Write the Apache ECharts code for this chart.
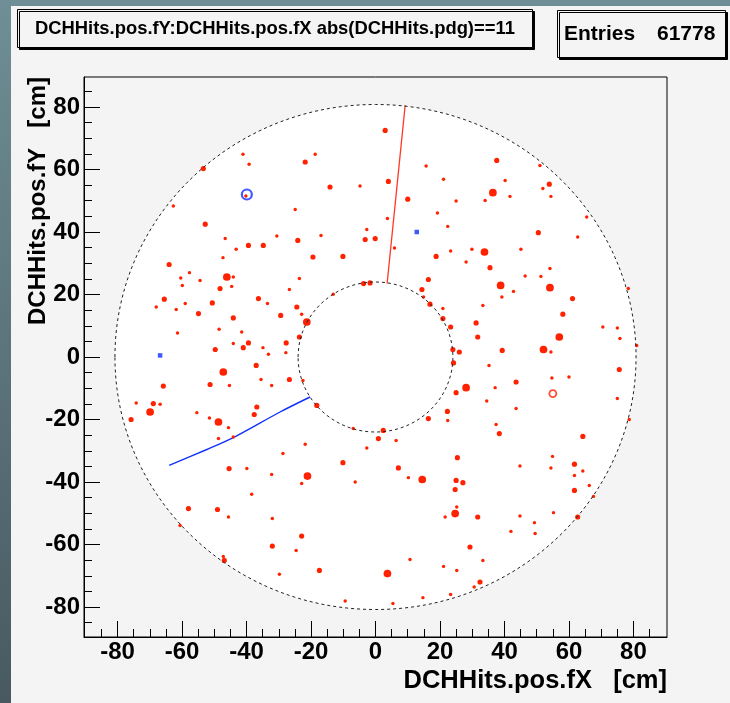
<!DOCTYPE html>
<html>
<head>
<meta charset="utf-8">
<script src="https://cdn.jsdelivr.net/npm/echarts@6/dist/echarts.min.js"></script>
<style>
  html, body { margin: 0; padding: 0; }
  body { width: 730px; height: 703px; background: linear-gradient(to bottom, #6f8e95, #485a60); position: relative; overflow: hidden; }
  #main { position: absolute; left: 11px; top: 6px; width: 719px; height: 697px; }
</style>
</head>
<body>
<div id="main"></div>
<script>
// tick values
var majorTicks = [-80, -60, -40, -20, 0, 20, 40, 60, 80];
var minorTicks = [-85, -80, -75, -70, -65, -60, -55, -50, -45, -40, -35, -30, -25, -20, -15, -10, -5, 0,
                  5, 10, 15, 20, 25, 30, 35, 40, 45, 50, 55, 60, 65, 70, 75, 80, 85];

// chamber walls: [x, y, radius]  (cm)
var walls = [[0, 0, 80.8], [0, 0, 24]];

// electron hits (red): [x, y, hits]
var hitsRed = [
  [-41.1,64.9,1],[-18.7,64.9,1],[-21.8,62.4,3],[-39.2,61.7,1],[-53.4,60.3,3],[4.0,56.2,3],[-4.8,54.7,1],
  [-14.1,54.4,3],[-40.2,51.5,1],[10.0,50.5,3],[15.7,61.1,1],[21.1,56.9,1],[-62.7,48.3,1],[-24.9,47.2,1],
  [19.2,46.1,1],[3.7,44.3,1],[-52.8,42.5,3],[22.4,41.8,1],[-2.7,40.8,1],[-30.6,38.7,1],[-16.9,38.9,1],
  [-46.6,37.9,1],[-24.1,37.3,3],[-3.2,37.6,3],[-0.1,37.9,3],[-39.4,35.7,3],[-34.8,35.7,3],[-43.2,34.5,1],
  [5.9,34.9,1],[18.8,32.2,3],[-19.4,32.0,3],[-10.1,32.2,3],[-47.3,31.8,1],[-64.0,29.6,3],[-57.7,27.0,1],
  [-46.1,25.6,6],[-44.1,25.6,1],[16.4,24.8,3],[-60.4,25.3,1],[-54.4,24.5,1],[-23.6,25.1,1],[-59.9,22.9,1],
  [-48.2,21.9,3],[-44.6,22.6,1],[-26.7,21.6,1],[14.4,21.6,3],[-65.5,18.5,3],[-36.3,18.7,3],[-24.4,16.0,3],
  [-68.0,16.0,1],[-50.6,17.3,3],[-59.0,17.1,1],[-33.5,17.1,1],[-61.8,15.2,1],[-54.9,13.9,3],[-29.4,13.3,3],
  [-22.9,13.7,1],[-44.1,12.5,3],[-21.3,11.2,6],[20.9,15.5,1],[20.9,12.3,3],[-48.5,8.9,1],[-61.4,7.7,1],
  [-41.5,8.0,1],[-23.6,6.4,3],[-27.7,4.5,3],[-39.4,4.5,3],[-44.1,4.3,1],[-49.7,2.4,3],[-41.0,3.0,3],
  [-34.9,3.0,1],[-33.2,0.9,1],[-27.8,1.4,1],[-37.0,-2.7,3],[-47.2,-4.8,6],[-26.7,-7.2,3],[-35.5,-7.2,1],
  [-51.3,-8.8,3],[-65.8,-9.3,3],[-22.5,-7.5,1],[-45.3,-9.1,1],[-32.2,-9.1,1],[-37.6,-18.4,3],
  [-55.4,-17.8,1],[-51.5,-19.5,1],[-48.7,-20.8,6],[-45.6,-22.6,1],[16.4,-19.7,3],[0.9,-26.1,3],
  [-2.7,-29.1,1],[-21.8,-27.9,1],[6.4,-26.7,1],[-36.8,-16.0,3],[-44.1,-25.6,1],[3.0,72.5,3],
  [-3.7,23.5,3],[-1.7,23.7,3],[-13.1,20.1,1],[-18.2,-15.5,3],[-6.9,-22.9,1],[2.4,-23.5,3],[14.9,19.2,1],
  [37.6,62.9,3],[51.0,61.3,1],[40.2,56.5,1],[53.9,55.3,3],[51.9,53.9,1],[36.4,52.6,6],[54.4,51.4,1],
  [41.7,51.4,1],[25.0,49.9,1],[34.0,50.1,1],[65.5,44.8,1],[50.5,39.8,3],[62.7,38.4,1],[29.9,34.5,1],
  [45.1,34.5,1],[23.3,33.9,1],[33.8,33.6,6],[28.1,30.4,1],[35.5,28.6,3],[54.1,28.3,1],[46.4,25.9,1],
  [51.3,25.8,1],[38.8,22.9,6],[54.1,22.2,6],[61.1,18.7,3],[42.8,21.0,1],[39.2,19.2,1],[16.9,16.9,3],
  [33.3,16.5,1],[58.1,13.7,3],[78.4,21.9,1],[31.2,10.9,3],[23.3,9.6,3],[70.5,9.6,1],[75.0,9.3,1],
  [57.0,6.4,6],[31.7,6.4,3],[75.8,5.9,1],[81.0,3.7,1],[24.0,2.4,3],[26.0,1.6,3],[39.3,2.1,3],[52.1,2.4,6],
  [54.4,1.6,1],[24.2,-1.9,3],[35.2,-2.7,1],[75.6,-4.0,3],[54.7,-6.7,1],[60.0,-6.4,1],[43.6,-8.0,3],
  [28.1,-9.8,6],[25.0,-11.4,3],[37.1,-9.8,1],[34.5,-14.1,1],[75.0,-13.3,1],[22.3,-17.4,3],[22.4,-20.3,1],
  [43.6,-16.5,1],[78.7,-20.0,1],[37.4,-21.6,1],[38.4,-24.5,3],[64.3,-25.4,3],
  [25.4,-32.2,3],[54.9,-31.8,1],[44.8,-34.9,1],[54.4,-35.5,1],[7.1,-35.5,3],[61.7,-34.3,3],[61.7,-37.9,1],
  [64.3,-36.5,1],[14.5,-39.2,6],[10.2,-38.6,1],[25.0,-39.5,3],[27.1,-40.2,3],[24.7,-42.4,3],[61.7,-42.7,3],
  [66.3,-41.1,1],[25.2,-48.0,1],[24.7,-50.1,6],[31.7,-51.2,3],[44.8,-50.9,1],[55.2,-49.8,1],[62.7,-51.2,3],
  [49.3,-53.0,1],[49.5,-56.5,1],[42.0,-55.8,1],[21.6,-51.2,1],[29.3,-60.8,3],[10.7,-64.8,1],[33.3,-65.1,1],
  [21.1,-67.0,1],[25.2,-68.3,1],[3.7,-69.3,6],[32.4,-72.0,3],[30.6,-73.6,1],[23.3,-76.0,1],[14.7,-77.0,1],
  [5.4,-78.9,1],[67.6,-44.6,1],
  [-74.2,-14.7,1],[-68.9,-14.9,3],[-69.9,-17.6,6],[-66.8,-15.1,1],[-75.8,-20.0,3],[-48.7,-26.1,1],
  [-28.7,-30.9,1],[-45.4,-35.7,3],[-39.9,-35.7,1],[-32.2,-37.6,1],[-21.1,-38.1,6],[-22.9,-40.5,1],
  [-38.4,-43.9,1],[-58.0,-48.5,3],[-49.0,-48.8,3],[-45.6,-51.2,1],[-32.0,-51.7,1],[-22.9,-57.3,3],
  [-32.0,-60.5,3],[-24.6,-61.9,1],[-60.6,-53.9,1],[-46.9,-65.1,3],[-47.2,-63.8,1],[-17.4,-68.3,3],
  [-29.8,-69.5,1],[-9.4,-78.1,1],[-10.1,-33.8,3],[-6.3,-40.0,1]
];
var ringsRed = [[55.0, -11.7]];

// positron-ish hits (blue)
var hitsBlue = [[12.8, 40.0], [-66.8, 0.5]];
var ringsBlue = [[-39.9, 52.0]];

// tracks
var trackRed = [[3.6, 23.5], [9.2, 80.5]];
var trackBlue = [[-20.3, -12.8], [-29.6, -17.6], [-44.1, -25.8], [-52.3, -29.6], [-64.0, -34.7]];

var entries = 61778;

var FONT = 'Liberation Sans';
var RED = '#ff2200';
var BLUE = '#1030ff';

var dom = document.getElementById('main');
var myChart = echarts.init(dom, null, { renderer: 'canvas' });

function xAxisBase(ticks, len, showLabel) {
    return {
        type: 'value',
        min: -90.4,
        max: 90.4,
        position: 'bottom',
        axisLine: { show: showLabel, onZero: false, lineStyle: { color: '#000', width: 1 } },
        axisTick: { show: true, inside: true, length: len, customValues: ticks, lineStyle: { color: '#000', width: 1 } },
        axisLabel: {
            show: showLabel, customValues: majorTicks, margin: 3,
            color: '#000', fontFamily: FONT, fontWeight: 'bold', fontSize: 24
        },
        splitLine: { show: false }
    };
}
function yAxisBase(ticks, len, showLabel) {
    return {
        type: 'value',
        min: -89.6,
        max: 89.6,
        position: 'left',
        axisLine: { show: showLabel, onZero: false, lineStyle: { color: '#000', width: 1 } },
        axisTick: { show: true, inside: true, length: len, customValues: ticks, lineStyle: { color: '#000', width: 1 } },
        axisLabel: {
            show: showLabel, customValues: majorTicks, margin: 4,
            color: '#000', fontFamily: FONT, fontWeight: 'bold', fontSize: 24
        },
        splitLine: { show: false }
    };
}

var xMain = xAxisBase(majorTicks, 16, true);
xMain.name = 'DCHHits.pos.fX   [cm]';
xMain.nameLocation = 'end';
xMain.nameGap = 0;
xMain.nameTextStyle = { color: '#000', fontFamily: FONT, fontWeight: 'bold', fontSize: 25.5,
    align: 'right', verticalAlign: 'top', padding: [31, 0, 0, 0] };

var yMain = yAxisBase(majorTicks, 16, true);
yMain.name = 'DCHHits.pos.fY   [cm]';
yMain.nameLocation = 'end';
yMain.nameGap = 0;
yMain.nameRotate = 90;
yMain.nameTextStyle = { color: '#000', fontFamily: FONT, fontWeight: 'bold', fontSize: 24,
    align: 'right', verticalAlign: 'bottom', padding: [0, 0, 34, 0] };

var option = {
    backgroundColor: '#f4f4f4',
    animation: false,
    title: [
        {
            text: 'DCHHits.pos.fY:DCHHits.pos.fX abs(DCHHits.pdg)==11',
            left: 6, top: 3,
            padding: [10, 18],
            borderColor: '#000', borderWidth: 1,
            backgroundColor: '#f4f4f4',
            shadowColor: '#000', shadowOffsetX: 2, shadowOffsetY: 2, shadowBlur: 0,
            textStyle: { color: '#000', fontFamily: FONT, fontWeight: 'bold', fontSize: 18.4, lineHeight: 19 }
        },
        {
            text: '{a|Entries}{b|' + entries + '}',
            left: 546, top: 3,
            padding: [13, 10, 13, 7],
            borderColor: '#000', borderWidth: 1,
            backgroundColor: '#f4f4f4',
            shadowColor: '#000', shadowOffsetX: 2, shadowOffsetY: 2, shadowBlur: 0,
            textStyle: {
                rich: {
                    a: { color: '#000', fontFamily: FONT, fontWeight: 'bold', fontSize: 21, lineHeight: 24, width: 93 },
                    b: { color: '#000', fontFamily: FONT, fontWeight: 'bold', fontSize: 21, lineHeight: 24 }
                }
            }
        }
    ],
    grid: {
        left: 73, top: 71, right: 63, bottom: 66,
        show: true, borderColor: '#000', borderWidth: 1, backgroundColor: 'transparent'
    },
    xAxis: [xMain, xAxisBase(minorTicks, 8, false)],
    yAxis: [yMain, yAxisBase(minorTicks, 8, false)],
    series: [
        {
            // white inside of the outer wall
            type: 'custom',
            z: 1,
            silent: true,
            data: walls.slice(0, 1),
            renderItem: function (params, api) {
                var c = api.coord([api.value(0), api.value(1)]);
                var s = api.size([api.value(2), api.value(2)]);
                return { type: 'ellipse', shape: { cx: c[0], cy: c[1], rx: s[0], ry: s[1] },
                         style: { fill: '#fff', stroke: null } };
            }
        },
        {
            type: 'scatter',
            z: 3,
            data: hitsRed,
            symbol: 'circle',
            symbolSize: function (v) { return 2.6 + 0.85 * v[2]; },
            itemStyle: { color: RED, opacity: 1 }
        },
        {
            type: 'scatter',
            z: 3,
            data: ringsRed,
            symbol: 'circle',
            symbolSize: 7,
            itemStyle: { color: 'transparent', borderColor: RED, borderWidth: 1.8 }
        },
        {
            type: 'line',
            z: 3,
            data: trackRed,
            symbol: 'none',
            lineStyle: { color: '#ff3a28', width: 1.3 }
        },
        {
            type: 'line',
            z: 3,
            data: trackBlue,
            symbol: 'none',
            smooth: 0.3,
            lineStyle: { color: BLUE, width: 1.4 }
        },
        {
            type: 'scatter',
            z: 4,
            data: hitsBlue,
            symbol: 'rect',
            symbolSize: 4.5,
            itemStyle: { color: BLUE }
        },
        {
            type: 'scatter',
            z: 4,
            data: ringsBlue,
            symbol: 'circle',
            symbolSize: 10,
            itemStyle: { color: 'transparent', borderColor: BLUE, borderWidth: 2.2 }
        },
        {
            // dashed wall outlines
            type: 'custom',
            z: 5,
            silent: true,
            data: walls,
            renderItem: function (params, api) {
                var c = api.coord([api.value(0), api.value(1)]);
                var s = api.size([api.value(2), api.value(2)]);
                return { type: 'ellipse', shape: { cx: c[0], cy: c[1], rx: s[0], ry: s[1] },
                         style: { fill: 'none', stroke: '#222', lineWidth: 1, lineDash: [3, 3] } };
            }
        }
    ]
};

myChart.setOption(option);
</script>
</body>
</html>
